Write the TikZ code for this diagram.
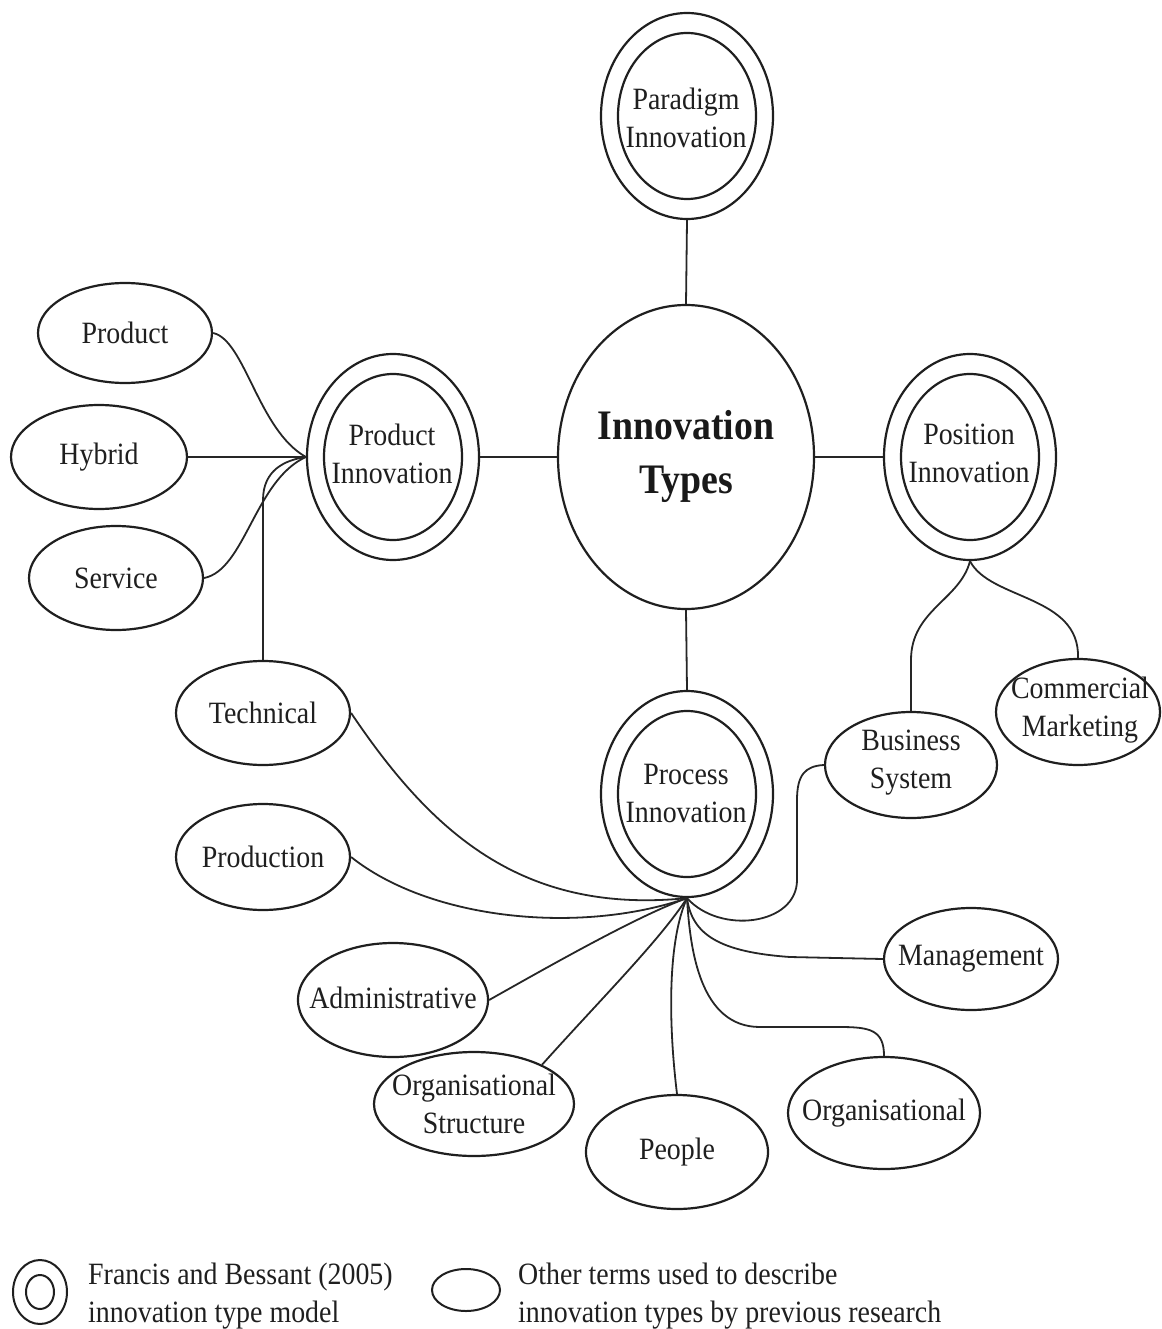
\documentclass[tikz,border=0pt]{standalone}
\usepackage{fontspec}
\setmainfont{Liberation Serif}[FakeStretch=0.9]
\usetikzlibrary{shapes.geometric}
\begin{document}
\begin{tikzpicture}[x=1pt,y=-1pt,
  ink/.style={draw=black!88, line width=2.2pt},
  oval/.style={ellipse, ink, inner sep=0pt, fill=white},
  ringout/.style={oval, minimum width=172pt, minimum height=206pt},
  ringin/.style={oval, minimum width=138pt, minimum height=166pt},
  lbl/.style={inner sep=0pt, align=center, text=black!88, font=\fontsize{31}{38}\selectfont},
  link/.style={draw=black!85, line width=1.8pt}
]
\useasboundingbox (0,0) rectangle (1161,1329);

% ---------- central ellipse ----------
\node[oval, minimum width=256pt, minimum height=304pt] (types) at (686,457) {};
\node[inner sep=0pt, align=center, text=black!90, font=\fontsize{42}{54}\selectfont\bfseries] (types-t) at (686,456) {Innovation\\Types};

% ---------- double rings ----------
\node[ringout] (para) at (687,116) {};
\node[ringin] (para-in) at (para) {};
\node[lbl] (para-t) at (686,118) {Paradigm\\Innovation};

\node[ringout] (prod) at (393,457) {};
\node[ringin] (prod-in) at (prod) {};
\node[lbl] (prod-t) at (392,454) {Product\\Innovation};

\node[ringout] (pos) at (970,457) {};
\node[ringin] (pos-in) at (pos) {};
\node[lbl] (pos-t) at (969,453) {Position\\Innovation};

\node[ringout] (proc) at (687,794) {};
\node[ringin] (proc-in) at (proc) {};
\node[lbl] (proc-t) at (686,793) {Process\\Innovation};

% ---------- leaf ellipses ----------
\node[oval, minimum width=174pt, minimum height=100pt] (product) at (125,333) {};
\node[lbl] (product-t) at (product) {Product};
\node[oval, minimum width=176pt, minimum height=104pt] (hybrid) at (99,457) {};
\node[lbl] (hybrid-t) at (hybrid) {Hybrid};
\node[oval, minimum width=174pt, minimum height=104pt] (service) at (116,578) {};
\node[lbl] (service-t) at (service) {Service};
\node[oval, minimum width=174pt, minimum height=104pt] (technical) at (263,713) {};
\node[lbl] (technical-t) at (technical) {Technical};
\node[oval, minimum width=174pt, minimum height=106pt] (production) at (263,857) {};
\node[lbl] (production-t) at (production) {Production};
\node[oval, minimum width=190pt, minimum height=114pt] (admin) at (393,1000) {};
\node[lbl] (admin-t) at (393,998) {Administrative};
\node[oval, minimum width=200pt, minimum height=104pt] (orgstruct) at (474,1104) {};
\node[lbl] (orgstruct-t) at (orgstruct) {Organisational\\Structure};
\node[oval, minimum width=182pt, minimum height=114pt] (people) at (677,1152) {};
\node[lbl] (people-t) at (people) {People};
\node[oval, minimum width=192pt, minimum height=112pt] (org) at (884,1113) {};
\node[lbl] (org-t) at (org) {Organisational};
\node[oval, minimum width=174pt, minimum height=102pt] (mgmt) at (971,959) {};
\node[lbl] (mgmt-t) at (mgmt) {Management};
\node[oval, minimum width=172pt, minimum height=106pt] (business) at (911,765) {};
\node[lbl] (business-t) at (911,763) {Business\\System};
\node[oval, minimum width=164pt, minimum height=106pt] (commercial) at (1078,712) {};
\node[lbl] (commercial-t) at (1080,710) {Commercial\\Marketing};

% ---------- spokes from the centre ----------
\draw[link] (para.south) -- (types.north);
\draw[link] (prod.east) -- (types.west);
\draw[link] (types.east) -- (pos.west);
\draw[link] (types.south) -- (proc.north);

% ---------- product innovation branches ----------
\draw[link] (product.east) .. controls (245,340) and (258,430) .. (prod.west);
\draw[link] (hybrid.east) -- (prod.west);
\draw[link] (service.east) .. controls (245,570) and (255,480) .. (prod.west);
\draw[link] (technical.north) -- (263,500) .. controls (263,470) and (285,460) .. (prod.west);

% ---------- position innovation branches ----------
\draw[link] (business.north) -- (911,660) .. controls (911,610) and (960,600) .. (pos.south);
\draw[link] (pos.south) .. controls (990,600) and (1080,595) .. (commercial.north);

% ---------- process innovation branches ----------
\draw[link] (technical.east) .. controls (430,830) and (520,915) .. (proc.south);
\draw[link] (production.east) .. controls (430,920) and (580,935) .. (proc.south);
\draw[link] (admin.east) .. controls (560,960) and (640,915) .. (proc.south);
\draw[link] (orgstruct.30) .. controls (600,1000) and (660,940) .. (proc.south);
\draw[link] (people.north) .. controls (668,1020) and (668,940) .. (proc.south);
\draw[link] (org.north) .. controls (884,1030) and (870,1027) .. (840,1027) -- (760,1027) .. controls (700,1027) and (690,950) .. (proc.south);
\draw[link] (mgmt.west) -- (790,957) .. controls (720,952) and (692,935) .. (proc.south);
\draw[link] (business.west) .. controls (805,766) and (797,775) .. (797,800) -- (797,880) .. controls (797,925) and (720,935) .. (proc.south);

% ---------- legend ----------
\node[oval, line width=2pt, minimum width=54pt, minimum height=64pt] (leg-ring) at (40,1292) {};
\node[oval, line width=2pt, minimum width=28pt, minimum height=34pt] (leg-ring-in) at (leg-ring) {};
\node[lbl, anchor=base west] (leg1a) at (88,1284) {Francis and Bessant (2005)};
\node[lbl, anchor=base west] (leg1b) at (88,1322) {innovation type model};
\node[oval, line width=2pt, minimum width=68pt, minimum height=42pt] (leg-oval) at (466,1290) {};
\node[lbl, anchor=base west] (leg2a) at (518,1284) {Other terms used to describe};
\node[lbl, anchor=base west] (leg2b) at (518,1322) {innovation types by previous research};
\end{tikzpicture}
\end{document}
